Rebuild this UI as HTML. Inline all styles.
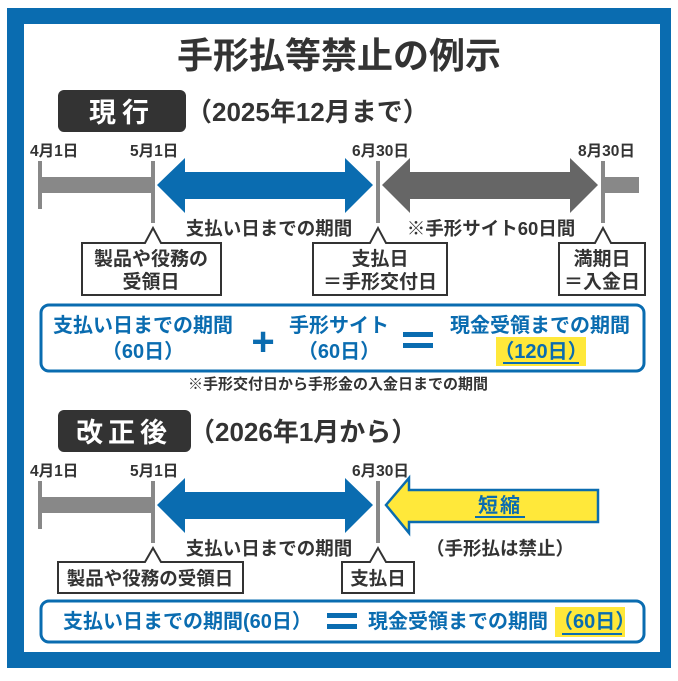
<!DOCTYPE html>
<html><head><meta charset="utf-8"><style>
html,body{margin:0;padding:0;background:#fff}
svg{display:block}
text{font-family:"Liberation Sans","Noto Sans CJK JP",sans-serif;font-weight:bold}
</style></head><body>
<svg width="678" height="681" viewBox="0 0 678 681" xmlns="http://www.w3.org/2000/svg">
<rect x="0" y="0" width="678" height="681" fill="#fff"/>
<rect x="7" y="8" width="664" height="660" fill="#0a6cb0"/>
<rect x="24" y="24" width="636" height="628" fill="#fff"/>
<text x="339" y="68" font-size="36" text-anchor="middle" fill="#333">手形払等禁止の例示</text>

<!-- Section 1 -->
<rect x="58" y="90" width="128" height="42" rx="6" fill="#333"/>
<text x="122" y="122" font-size="27" text-anchor="middle" fill="#fff" letter-spacing="6">現行</text>
<text x="186" y="121" font-size="26" fill="#333">（2025年12月まで）</text>

<g font-size="15.5" fill="#333" font-weight="normal">
<text x="30" y="156">4月1日</text><text x="130" y="156">5月1日</text>
<text x="352" y="156">6月30日</text><text x="578" y="156">8月30日</text>
</g>
<rect x="38" y="161" width="4" height="48" fill="#888"/>
<rect x="40" y="177" width="113" height="16" fill="#888"/>
<rect x="151" y="161" width="4" height="62" fill="#888"/>
<rect x="376" y="161" width="4" height="62" fill="#888"/>
<rect x="601" y="161" width="4" height="62" fill="#888"/>
<rect x="605" y="177" width="34" height="16" fill="#888"/>
<polygon points="157,185 185,158 185,172 345,172 345,158 373,185 345,213 345,199 185,199 185,213" fill="#0a6cb0"/>
<polygon points="382,185 410,158 410,172 570,172 570,158 598,185 570,213 570,199 410,199 410,213" fill="#666"/>
<text x="269" y="235" font-size="18.5" text-anchor="middle" fill="#333">支払い日までの期間</text>
<text x="491" y="235" font-size="18.5" text-anchor="middle" fill="#333">※手形サイト60日間</text>

<g fill="#fff" stroke="#333" stroke-width="2">
<path d="M82,243 H145 L153,228 L161,243 H221 V295 H82 Z"/>
<path d="M313,243 H370 L378,228 L386,243 H447 V295 H313 Z"/>
<path d="M559,243 H595 L603,228 L611,243 H645 V295 H559 Z"/>
</g>
<g font-size="19" text-anchor="middle" fill="#333">
<text x="151" y="265">製品や役務の</text><text x="151" y="288">受領日</text>
<text x="380" y="265">支払日</text><text x="380" y="288">＝手形交付日</text>
<text x="602" y="265">満期日</text><text x="602" y="288">＝入金日</text>
</g>

<rect x="41" y="305" width="603" height="66" rx="8" fill="#fff" stroke="#0a6cb0" stroke-width="3"/>
<rect x="496" y="337" width="90" height="29" fill="#ffe83a"/>
<g font-size="20" text-anchor="middle" fill="#0a6cb0">
<text x="143" y="332">支払い日までの期間</text><text x="143" y="358">（60日）</text>
<text x="339" y="332">手形サイト</text><text x="339" y="358">（60日）</text>
<text x="540" y="332">現金受領までの期間</text><text x="541" y="358">（120日）</text>
</g>
<rect x="503" y="362" width="76" height="2" fill="#0a6cb0"/>
<text x="263" y="355" font-size="40" text-anchor="middle" fill="#0a6cb0">+</text>
<rect x="403" y="332" width="30" height="5" fill="#0a6cb0"/>
<rect x="403" y="343" width="30" height="5" fill="#0a6cb0"/>
<text x="338" y="389" font-size="15" text-anchor="middle" fill="#333" font-weight="normal">※手形交付日から手形金の入金日までの期間</text>

<!-- Section 2 -->
<rect x="58" y="410" width="133" height="42" rx="6" fill="#333"/>
<text x="124" y="442" font-size="27" text-anchor="middle" fill="#fff" letter-spacing="5">改正後</text>
<text x="189" y="441" font-size="26" fill="#333">（2026年1月から）</text>

<g font-size="15.5" fill="#333" font-weight="normal">
<text x="30" y="476">4月1日</text><text x="130" y="476">5月1日</text>
<text x="352" y="476">6月30日</text>
</g>
<rect x="38" y="481" width="4" height="48" fill="#888"/>
<rect x="40" y="497" width="113" height="16" fill="#888"/>
<rect x="151" y="481" width="4" height="62" fill="#888"/>
<rect x="376" y="481" width="4" height="62" fill="#888"/>
<polygon points="157,505 185,478 185,492 345,492 345,478 373,505 345,533 345,519 185,519 185,533" fill="#0a6cb0"/>
<polygon points="386,505 409,478 409,490 598,490 598,522 409,522 409,533" fill="#ffe83a" stroke="#0a6cb0" stroke-width="2.5"/>
<text x="500" y="512" font-size="20" text-anchor="middle" fill="#0a6cb0" letter-spacing="2">短縮</text>
<rect x="475" y="516" width="50" height="2" fill="#0a6cb0"/>
<text x="269" y="555" font-size="18.5" text-anchor="middle" fill="#333">支払い日までの期間</text>
<text x="500" y="555" font-size="18.5" text-anchor="middle" fill="#333">（手形払は禁止）</text>
<g fill="#fff" stroke="#333" stroke-width="2">
<path d="M58,562 H145 L153,548 L161,562 H243 V593 H58 Z"/>
<path d="M342,562 H370 L378,548 L386,562 H414 V593 H342 Z"/>
</g>
<text x="150" y="585" font-size="18.5" text-anchor="middle" fill="#333">製品や役務の受領日</text>
<text x="378" y="585" font-size="18.5" text-anchor="middle" fill="#333">支払日</text>

<rect x="41" y="601" width="603" height="41" rx="8" fill="#fff" stroke="#0a6cb0" stroke-width="3"/>
<rect x="555" y="607" width="70" height="30" fill="#ffe83a"/>
<g font-size="20" fill="#0a6cb0">
<text x="63" y="628">支払い日までの期間(60日）</text>
<text x="368" y="628">現金受領までの期間</text>
<text x="553" y="628">（60日）</text>
</g>
<rect x="562" y="633" width="60" height="2" fill="#0a6cb0"/>
<rect x="327" y="613" width="30" height="5" fill="#0a6cb0"/>
<rect x="327" y="624" width="30" height="5" fill="#0a6cb0"/>
</svg>
</body></html>
